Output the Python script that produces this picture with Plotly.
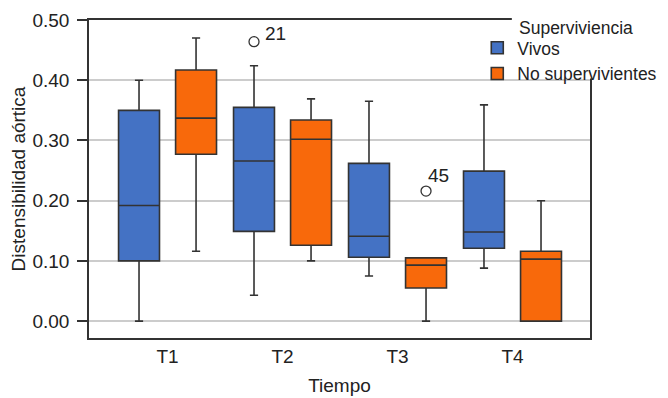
import plotly.graph_objects as go

categories = ["T1", "T2", "T3", "T4"]
series_names = ["Vivos", "No supervivientes"]

vivos_low = [0.000, 0.043, 0.075, 0.088]
vivos_q1 = [0.100, 0.149, 0.106, 0.121]
vivos_med = [0.192, 0.266, 0.141, 0.148]
vivos_q3 = [0.350, 0.355, 0.262, 0.249]
vivos_up = [0.400, 0.424, 0.365, 0.359]

nosup_low = [0.116, 0.100, 0.000, 0.000]
nosup_q1 = [0.277, 0.126, 0.055, 0.000]
nosup_med = [0.337, 0.302, 0.093, 0.103]
nosup_q3 = [0.417, 0.334, 0.105, 0.116]
nosup_up = [0.470, 0.369, 0.105, 0.200]

outlier_cat = ["T2", "T3"]
outlier_series = ["Vivos", "No supervivientes"]
outlier_val = [0.464, 0.216]
outlier_lbl = ["21", "45"]

y_ticks = [0.0, 0.1, 0.2, 0.3, 0.4, 0.5]

colors = {"Vivos": "#4472C4", "No supervivientes": "#F8690B"}
offset = {"Vivos": -0.248, "No supervivientes": 0.248}
label_shift = [(9, 8), (0, 16)]
box_w = 0.356
FONT = "Liberation Sans, Arial, sans-serif"
TXT = "#222222"
FS = 19

fig = go.Figure()
stats = {
    "Vivos": (vivos_low, vivos_q1, vivos_med, vivos_q3, vivos_up),
    "No supervivientes": (nosup_low, nosup_q1, nosup_med, nosup_q3, nosup_up),
}
for name in series_names:
    lo, q1, md, q3, up = stats[name]
    xs = [i + offset[name] for i in range(len(categories))]
    fig.add_trace(go.Box(
        x=xs, q1=q1, median=md, q3=q3, lowerfence=lo, upperfence=up,
        width=box_w, whiskerwidth=0.2, boxpoints=False,
        fillcolor=colors[name], line=dict(color="#333333", width=1.6),
        name=name, hoverinfo="skip",
    ))

ox = [categories.index(c) + offset[s] for c, s in zip(outlier_cat, outlier_series)]
fig.add_trace(go.Scatter(
    x=ox, y=outlier_val, mode="markers",
    marker=dict(symbol="circle-open", size=10, color="#333333", line=dict(width=1.3)),
    showlegend=False, hoverinfo="skip", cliponaxis=False,
))
annotations = [dict(text="Superviviencia", xref="paper", yref="paper",
                    x=0.855, y=0.975, xanchor="left", yanchor="middle",
                    showarrow=False, font=dict(size=17.5, color=TXT, family=FONT))]
for xv, yv, lbl, (dx, dy) in zip(ox, outlier_val, outlier_lbl, label_shift):
    annotations.append(dict(text=lbl, x=xv, y=yv, xref="x", yref="y",
                            xanchor="left", yanchor="middle", xshift=dx, yshift=dy,
                            showarrow=False, font=dict(size=FS, color=TXT, family=FONT)))

fig.update_layout(
    width=660, height=390,
    margin=dict(l=81, r=78, t=12, b=60, autoexpand=False),
    plot_bgcolor="white", paper_bgcolor="white",
    font=dict(family=FONT, size=FS, color=TXT),
    showlegend=True,
    legend=dict(
        x=0.775, y=0.944, xanchor="left", yanchor="top", xref="paper", yref="container",
        bgcolor="rgba(0,0,0,0)", font=dict(size=17.5, color=TXT, family=FONT),
        tracegroupgap=0,
    ),
    shapes=[dict(type="rect", xref="paper", yref="paper", x0=0.844, x1=1.2,
                 y0=0.816, y1=1.2, fillcolor="white", line=dict(width=0), layer="above")],
    annotations=annotations,
)
fig.update_xaxes(
    range=[-0.683, 3.674], tickvals=list(range(len(categories))), ticktext=categories,
    showgrid=False, zeroline=False, showline=True, mirror=True,
    linecolor="#333333", linewidth=1.5, ticks="",
    title=dict(text="Tiempo", font=dict(size=FS, color=TXT), standoff=13),
    tickfont=dict(size=FS, color=TXT),
)
fig.update_yaxes(
    range=[-0.028, 0.5], tickvals=y_ticks, tickformat=".2f",
    showgrid=True, gridcolor="#cccccc", gridwidth=1.5, zeroline=False,
    showline=True, mirror=True, linecolor="#333333", linewidth=1.5,
    ticks="outside", ticklen=10, tickcolor="#333333", tickwidth=1.5,
    ticklabelstandoff=4,
    title=dict(text="Distensibilidad aórtica", font=dict(size=FS, color=TXT), standoff=6),
    tickfont=dict(size=FS, color=TXT),
)

fig.write_html("out.html")
